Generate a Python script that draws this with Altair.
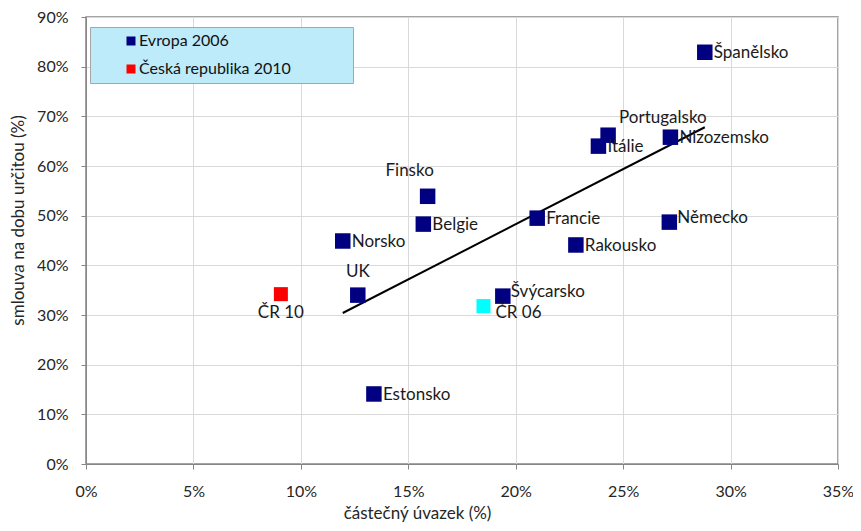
import altair as alt
import pandas as pd

names = ["Španělsko", "Portugalsko", "Itálie", "Nizozemsko", "Finsko", "Belgie",
         "Francie", "Německo", "Norsko", "Rakousko", "UK", "Švýcarsko",
         "Estonsko", "ČR 06", "ČR 10"]
part_time = [28.8, 24.3, 23.85, 27.2, 15.9, 15.7, 21.0, 27.15, 11.95, 22.8,
             12.65, 19.4, 13.4, 18.5, 9.07]
fixed_term = [82.9, 66.2, 64.0, 65.8, 53.9, 48.3, 49.5, 48.7, 44.9, 44.1,
              34.0, 33.8, 14.1, 31.8, 34.2]
groups = ["Evropa 2006"] * 13 + ["ČR 2006", "Česká republika 2010"]
label_pos = ["r", "tr", "r", "r", "tl", "r", "r", "ru", "r", "r", "t", "ru",
             "r", "br", "b"]

trend_x = [11.95, 28.8]
trend_y = [30.4, 67.8]

df = pd.DataFrame({"name": names, "x": part_time, "y": fixed_term,
                   "group": groups, "pos": label_pos})
trend = pd.DataFrame({"x": trend_x, "y": trend_y})

FONT = "Lato"
TXT = "#262626"

xs = alt.Scale(domain=[0, 35], nice=False)
ys = alt.Scale(domain=[0, 90], nice=False)

x_axis = alt.Axis(values=list(range(0, 36, 5)), labelExpr="datum.value + '%'",
                  title="částečný úvazek (%)", grid=True, gridColor="#D9D9D9",
                  domainColor="#868686", tickColor="#868686", tickSize=5,
                  labelPadding=14, labelFontSize=16, labelColor=TXT, labelFlush=False,
                  labelFont=FONT, titleFont=FONT, titleFontSize=17,
                  titleFontWeight="normal", titleColor=TXT,
                  titleX=331, titleY=49, titleAlign="center", titleBaseline="middle")
y_axis = alt.Axis(values=list(range(0, 91, 10)), labelExpr="datum.value + '%'",
                  title="smlouva na dobu určitou (%)", grid=True, gridColor="#D9D9D9",
                  domainColor="#868686", tickColor="#868686", tickSize=5,
                  labelPadding=13, labelFontSize=16, labelColor=TXT, labelFlush=False,
                  labelFont=FONT, titleFont=FONT, titleFontSize=17,
                  titleFontWeight="normal", titleColor=TXT,
                  titleX=-68, titleY=203, titleAlign="center", titleBaseline="middle")

color = alt.Color("group:N",
                  scale=alt.Scale(domain=["Evropa 2006", "Česká republika 2010", "ČR 2006"],
                                  range=["#000080", "#FF0000", "#00FFFF"]),
                  legend=alt.Legend(values=["Evropa 2006", "Česká republika 2010"],
                                    title="MMM", titleOrient="right", titleColor="transparent",
                                    titleFontSize=14, titlePadding=21,
                                    orient="none", legendX=4, legendY=10,
                                    fillColor="#BDEBFA", strokeColor="#A6A6A6",
                                    padding=6, rowPadding=12, symbolOffset=27,
                                    symbolType="square", symbolSize=81,
                                    symbolStrokeWidth=0, labelOffset=0,
                                    labelFont=FONT, labelFontSize=16,
                                    labelColor="#111111", labelLimit=400))

points = alt.Chart(df).mark_point(shape="square", filled=True, opacity=1).encode(
    x=alt.X("x:Q", scale=xs, axis=x_axis),
    y=alt.Y("y:Q", scale=ys, axis=y_axis),
    color=color,
    size=alt.condition(alt.datum.group == "Evropa 2006", alt.value(240), alt.value(196)),
)

line = alt.Chart(trend).mark_line(color="black", strokeWidth=2).encode(
    x=alt.X("x:Q", scale=xs), y=alt.Y("y:Q", scale=ys))

styles = {
    "r": dict(align="left", dx=9, dy=1),
    "ru": dict(align="left", dx=8, dy=-4),
    "tr": dict(align="left", dx=11, dy=-17),
    "tl": dict(align="center", dx=-18, dy=-25),
    "t": dict(align="center", dx=0, dy=-23),
    "br": dict(align="left", dx=12, dy=7),
    "b": dict(align="center", dx=0, dy=19),
}

texts = []
for key, st in styles.items():
    texts.append(
        alt.Chart(df).transform_filter(alt.datum.pos == key)
        .mark_text(baseline="middle", font=FONT, fontSize=17, color="#1a1a1a", **st)
        .encode(x=alt.X("x:Q", scale=xs), y=alt.Y("y:Q", scale=ys), text="name:N")
    )

chart = alt.layer(line, points, *texts).properties(
    width=752, height=447,
    autosize=alt.AutoSizeParams(type="none"),
    padding={"left": 78, "top": 9, "right": 15, "bottom": 60},
).configure_view(stroke="#868686", strokeWidth=1.5)

chart.save("out.html", embed_options={"renderer": "svg", "actions": False})
